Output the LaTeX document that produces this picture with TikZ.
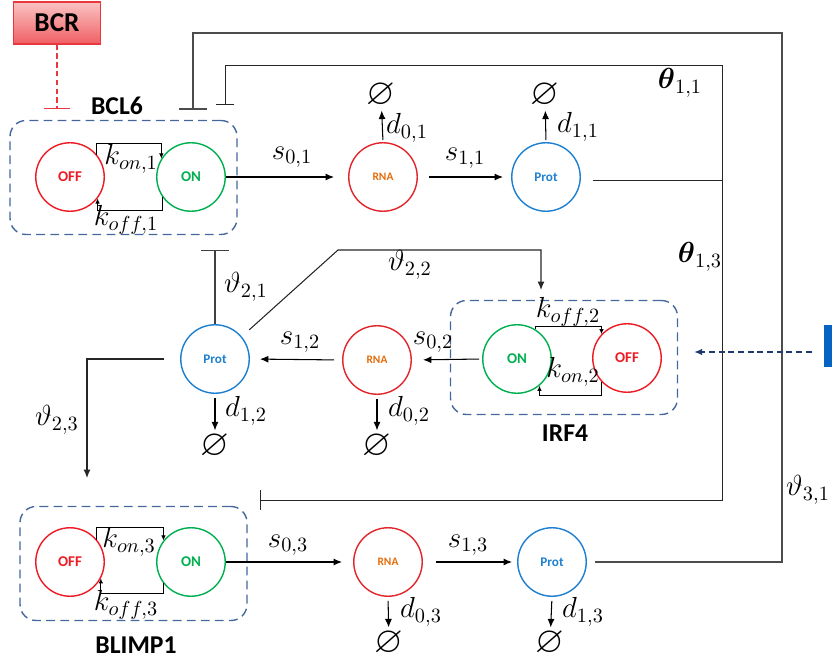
\RequirePackage{fix-cm}
\documentclass[tikz,border=0pt]{standalone}
\usepackage{amsmath,amssymb}
\usepackage{fontspec}
\setsansfont{Carlito}
\usetikzlibrary{arrows.meta,calc}

\definecolor{offred}{RGB}{237,28,36}
\definecolor{ongreen}{RGB}{0,176,80}
\definecolor{rnaorange}{RGB}{228,108,10}
\definecolor{rnared}{RGB}{226,38,44}
\definecolor{protblue}{RGB}{30,128,208}
\definecolor{boxblue}{RGB}{68,103,158}
\definecolor{signavy}{RGB}{31,56,110}
\definecolor{sigblue}{RGB}{5,99,193}
\definecolor{bcrred}{RGB}{232,56,61}

\tikzset{
  state/.style={circle,draw=#1,line width=0.8pt,minimum size=1.37cm,inner sep=0pt,
    font=\sffamily\bfseries\fontsize{8.5}{10}\selectfont},
  offnode/.style={state=offred,text=offred},
  onnode/.style={state=ongreen,text=ongreen},
  rnanode/.style={state=rnared,text=rnaorange,font=\sffamily\bfseries\fontsize{6.5}{8}\selectfont},
  protnode/.style={state=protblue,text=protblue,font=\sffamily\bfseries\fontsize{7.5}{9}\selectfont},
  genebox/.style={draw=boxblue,dash pattern=on 5pt off 3pt,rounded corners=0.32cm,
    line width=0.8pt,minimum width=4.54cm,minimum height=2.28cm},
  gene/.style={font=\sffamily\bfseries\fontsize{14.6}{17}\selectfont,inner sep=0pt},
  lbl/.style={font=\fontsize{16.5}{19}\selectfont,inner sep=0pt},
  sink/.style={font=\fontsize{21}{24}\selectfont,inner sep=0pt},
  flow/.style={-{Latex[length=1.7mm,width=1.4mm]},line width=0.6pt},
  rate/.style={-{Latex[length=1mm,width=0.9mm]},line width=0.5pt},
  inhib/.style={-{Bar[width=#1]},line width=0.6pt},
}

\begin{document}
\begin{tikzpicture}[x=0.02cm,y=-0.02cm]
\useasboundingbox (0,0) rectangle (832,662);

% BCR
\node[draw=bcrred,line width=0.8pt,top color={rgb,255:red,250;green,195;blue,195},
  bottom color={rgb,255:red,240;green,95;blue,100},minimum width=1.74cm,minimum height=0.84cm,
  font=\sffamily\bfseries\fontsize{15.5}{18}\selectfont] (bcr) at (57,23) {BCR};
\coordinate (bcrend) at ($(bcr.south)+(0,64)$);
\draw[bcrred,dash pattern=on 3pt off 2pt,-{Bar[width=0.52cm]},line width=0.6pt] (bcr.south) -- (bcrend);

% BCL6
\node[genebox] (bcl6box) at (123.5,177.5) {};
\node[gene] (bcl6lbl) at (117,106) {BCL6};
\node[offnode] (off1) at (70,177) {OFF};
\node[onnode] (on1) at (191,177) {ON};
\node[rnanode] (rna1) at (383,177) {RNA};
\node[protnode] (prot1) at (546,177) {Prot};
\draw[rate] (off1.40) -- ++(0,-11) -| (on1.148);
\draw[rate] (on1.214) -- ++(0,14) -| (off1.-38);
\node[lbl] (kon1) at (131,159) {$k_{on,1}$};
\node[lbl] (koff1) at (126,220) {$k_{off,1}$};
\draw[flow,shorten >=0.28cm] (on1.east) -- (rna1.west);
\draw[flow,shorten <=0.22cm,shorten >=0.16cm] (rna1.east) -- (prot1.west);
\node[lbl] (s01) at (292,157) {$s_{0,1}$};
\node[lbl] (s11) at (465,158) {$s_{1,1}$};
\node[sink] (e01) at (381,95) {$\varnothing$};
\node[sink] (e11) at (545,95) {$\varnothing$};
\draw[flow,shorten <=0.04cm,shorten >=0.06cm] (rna1.north) -- (e01);
\draw[flow,shorten <=0.04cm,shorten >=0.06cm] (prot1.north) -- (e11);
\node[lbl] (d01) at (407,128) {$d_{0,1}$};
\node[lbl] (d11) at (578,127) {$d_{1,1}$};

% IRF4
\node[genebox] (irf4box) at (564,357.5) {};
\node[gene] (irf4lbl) at (565,433) {IRF4};
\node[onnode] (on2) at (517,359) {ON};
\node[offnode] (off2) at (627,358) {OFF};
\node[rnanode] (rna2) at (377,360) {RNA};
\node[protnode] (prot2) at (215,359) {Prot};
\draw[rate] (on2.58) -- ++(0,-3) -| (off2.137);
\draw[rate] (off2.223) -- ++(0,14) -| (on2.-50);
\node[lbl] (koff2) at (568,312) {$k_{off,2}$};
\node[lbl] (kon2) at (573,372) {$k_{on,2}$};
\draw[flow,shorten <=0.06cm,shorten >=0.22cm] (on2.west) -- (rna2.east);
\draw[flow,shorten <=0.16cm,shorten >=0.2cm] (rna2.west) -- (prot2.east);
\node[lbl] (s02) at (433,342) {$s_{0,2}$};
\node[lbl] (s12) at (300,342) {$s_{1,2}$};
\node[sink] (e12) at (215,446) {$\varnothing$};
\node[sink] (e02) at (377,446) {$\varnothing$};
\draw[flow,shorten <=0.08cm,shorten >=0.06cm] (prot2.south) -- (e12);
\draw[flow,shorten <=0.08cm,shorten >=0.06cm] (rna2.south) -- (e02);
\node[lbl] (d12) at (246,411) {$d_{1,2}$};
\node[lbl] (d02) at (409,411) {$d_{0,2}$};

% BLIMP1
\node[genebox] (blimpbox) at (133.5,563.5) {};
\node[gene] (blimplbl) at (136,645) {BLIMP1};
\node[offnode] (off3) at (70,562) {OFF};
\node[onnode] (on3) at (191,562) {ON};
\node[rnanode] (rna3) at (388,562) {RNA};
\node[protnode] (prot3) at (552,562) {Prot};
\draw[rate] (off3.40) -- ++(0,-12) -| (on3.142);
\draw[rate] (on3.217) -- ++(0,10) -| (off3.-28);
\node[lbl] (kon3) at (129,542) {$k_{on,3}$};
\node[lbl] (koff3) at (126,605) {$k_{off,3}$};
\draw[flow,shorten >=0.22cm] (on3.east) -- (rna3.west);
\draw[flow,shorten <=0.26cm,shorten >=0.1cm] (rna3.east) -- (prot3.west);
\node[lbl] (s03) at (288,545) {$s_{0,3}$};
\node[lbl] (s13) at (468,545) {$s_{1,3}$};
\node[sink] (e03) at (389,643) {$\varnothing$};
\node[sink] (e13) at (550,643) {$\varnothing$};
\draw[flow,shorten <=0.08cm,shorten >=0.06cm] (rna3.south) -- (e03);
\draw[flow,shorten <=0.08cm,shorten >=0.06cm] (prot3.south) -- (e13);
\node[lbl] (d03) at (421,612) {$d_{0,3}$};
\node[lbl] (d13) at (583,612) {$d_{1,3}$};

% feedback
\coordinate (t31) at (193,110);
\coordinate (t11) at (225,105);
\coordinate (j13) at (722,181);
\coordinate (t13) at (260,500);
\coordinate (t21) at (215,250);
\coordinate (a22) at (541,290);
\coordinate (a23) at (87,478);
\draw[black!70,line width=0.9pt,-{Bar[width=0.58cm]},shorten <=0.16cm] (prot3.east) -| (782,33) -| (t31);
\draw[black!85,inhib=0.36cm,line width=0.5pt,shorten <=0.24cm] (prot1.-6) -| (722,65) -| (t11);
\draw[black!85,inhib=0.4cm,line width=0.5pt] (j13) |- (t13);
\draw[black!75,inhib=0.56cm] (prot2.north) -- (t21);
\draw[flow,black!85,shorten <=0.2cm] (prot2.40) -- (338,250) -| (a22);
\draw[flow,black!85,shorten <=0.32cm] (prot2.west) -| (a23);
\node[lbl] (th11) at (680,83) {$\boldsymbol{\theta}_{1,1}$};
\node[lbl] (th13) at (700,257) {$\boldsymbol{\theta}_{1,3}$};
\node[lbl] (th21) at (246,287) {$\vartheta_{2,1}$};
\node[lbl] (th22) at (410,265) {$\vartheta_{2,2}$};
\node[lbl] (th23) at (57,420) {$\vartheta_{2,3}$};
\node[lbl] (th31) at (808,490) {$\vartheta_{3,1}$};

% signal
\node[fill=sigblue,minimum width=0.16cm,minimum height=0.84cm,inner sep=0pt] (sig) at (828,346) {};
\draw[signavy,dash pattern=on 3.5pt off 2pt,-{Latex[length=1.6mm,width=1.3mm]},line width=0.7pt]
  ($(sig.west)+(-12,6)$) -- ($(irf4box.east)+(16,-5.5)$);
\end{tikzpicture}
\end{document}
